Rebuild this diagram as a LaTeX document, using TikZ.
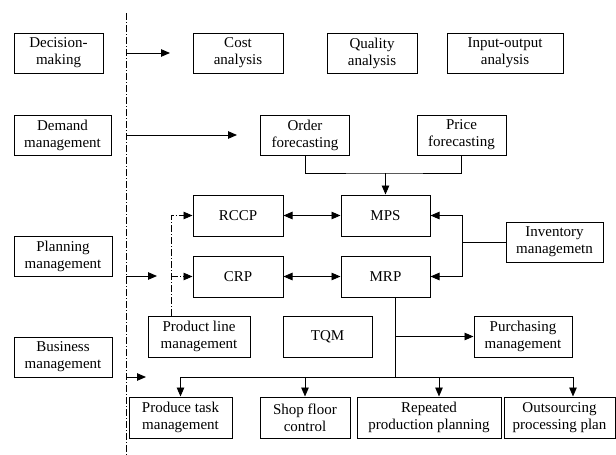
\documentclass[tikz,border=0pt]{standalone}
\usepackage{fontspec}
\setmainfont{Liberation Serif}
\usetikzlibrary{arrows.meta}
\begin{document}
\begin{tikzpicture}[x=1pt,y=-1pt,
 box/.style={draw, line width=1pt, align=center, inner sep=0pt, font=\fontsize{15}{17}\selectfont},
 arr/.style={-{Triangle[length=9pt,width=7.5pt]}, line width=0.9pt},
 darr/.style={{Triangle[length=9pt,width=7.5pt]}-{Triangle[length=9pt,width=7.5pt]}, line width=0.9pt},
 ddarr/.style={-{Triangle[length=9pt,width=7.5pt]}, line width=0.9pt, dash pattern=on 7pt off 2pt on 1pt off 2pt},
 dd/.style={line width=0.9pt, dash pattern=on 7pt off 2pt on 1pt off 2pt},
 ln/.style={line width=0.9pt}]
\useasboundingbox (0,0) rectangle (616,455);
% left column
\node[box, minimum width=89, minimum height=40] (dm) at (58.5,53) {Decision-\\making};
\node[box, minimum width=97, minimum height=40] (dem) at (62.5,135) {Demand\\management};
\node[box, minimum width=98, minimum height=40] (plan) at (63,256) {Planning\\management};
\node[box, minimum width=98, minimum height=40] (bus) at (63,357) {Business\\management};
% divider
\coordinate (vt) at (126,13);
\coordinate (vb) at (126,455);
\draw[dd] (vt) -- (vb);
% top row
\node[box, minimum width=90, minimum height=40] (cost) at (238,53) {Cost\\analysis};
\node[box, minimum width=90, minimum height=40] (qual) at (372,53) {Quality\\analysis};
\node[box, minimum width=116, minimum height=40] (io) at (505,53) {Input-output\\analysis};
\node[box, minimum width=89, minimum height=40] (of) at (305,135) {Order\\forecasting};
\node[box, minimum width=89, minimum height=40] (pf) at (461.5,135) {Price\\forecasting};
% middle
\node[box, minimum width=90, minimum height=41] (rccp) at (238,215.5) {RCCP};
\node[box, minimum width=90, minimum height=41] (crp) at (238,276.5) {CRP};
\node[box, minimum width=89, minimum height=41] (mps) at (385.5,215.5) {MPS};
\node[box, minimum width=89, minimum height=41] (mrp) at (385.5,276.5) {MRP};
\node[box, minimum width=97, minimum height=40] (inv) at (554.5,242) {Inventory\\managemetn};
\node[box, minimum width=102, minimum height=41] (plm) at (199,336.5) {Product line\\management};
\node[box, minimum width=89, minimum height=41] (tqm) at (327.5,336.5) {TQM};
\node[box, minimum width=98, minimum height=41] (pur) at (523,336.5) {Purchasing\\management};
% bottom
\node[box, minimum width=103, minimum height=41] (ptm) at (180.5,417.5) {Produce task\\management};
\node[box, minimum width=90, minimum height=41] (sfc) at (305,417.5) {Shop floor\\control};
\node[box, minimum width=144, minimum height=41] (rpp) at (429,417.5) {Repeated\\production planning};
\node[box, minimum width=111, minimum height=41] (osp) at (559.5,417.5) {Outsourcing\\processing plan};
% arrows from divider
\coordinate (a1s) at (126,53);   \coordinate (a1e) at (170,53);
\coordinate (a2s) at (126,135);  \coordinate (a2e) at (237,135);
\coordinate (a3s) at (126,276);  \coordinate (a3e) at (157,276);
\coordinate (a4s) at (126,377);  \coordinate (a4e) at (146,377);
\draw[arr] (a1s) -- (a1e);
\draw[arr] (a2s) -- (a2e);
\draw[arr] (a3s) -- (a3e);
\draw[arr] (a4s) -- (a4e);
% forecasting to MPS
\coordinate (j1) at (385.5,173);
\draw[ln] (of.south) |- (j1) -| (pf.south);
\draw[arr] (j1) -- (mps.north);
% RCCP/CRP <-> MPS/MRP
\draw[darr] (rccp.east) -- (mps.west);
\draw[darr] (crp.east) -- (mrp.west);
% inventory
\coordinate (j2) at (462,242);
\draw[ln] (inv.west) -- (j2);
\draw[arr] (j2) |- (mps.east);
\draw[arr] (j2) |- (mrp.east);
% product line dash-dot
\coordinate (p1) at (171,316);
\coordinate (p2) at (171,276.5);
\draw[ddarr] (p1) |- (rccp.west);
\draw[ddarr] (p2) -- (crp.west);
% MRP down
\coordinate (m1) at (395,297);
\coordinate (m2) at (395,336.5);
\coordinate (m3) at (395,377);
\draw[ln] (m1) -- (m3);
\draw[arr] (m2) -- (pur.west);
\coordinate (b1) at (180.5,377);
\coordinate (b2) at (305,377);
\coordinate (b3) at (439,377);
\coordinate (b4) at (573,377);
\draw[ln] (b1) -- (b4);
\draw[arr] (b1) -- (ptm.north);
\draw[arr] (b2) -- (sfc.north);
\draw[arr] (b3) -- (b3 |- rpp.north);
\draw[arr] (b4) -- (b4 |- osp.north);
\end{tikzpicture}
\end{document}
